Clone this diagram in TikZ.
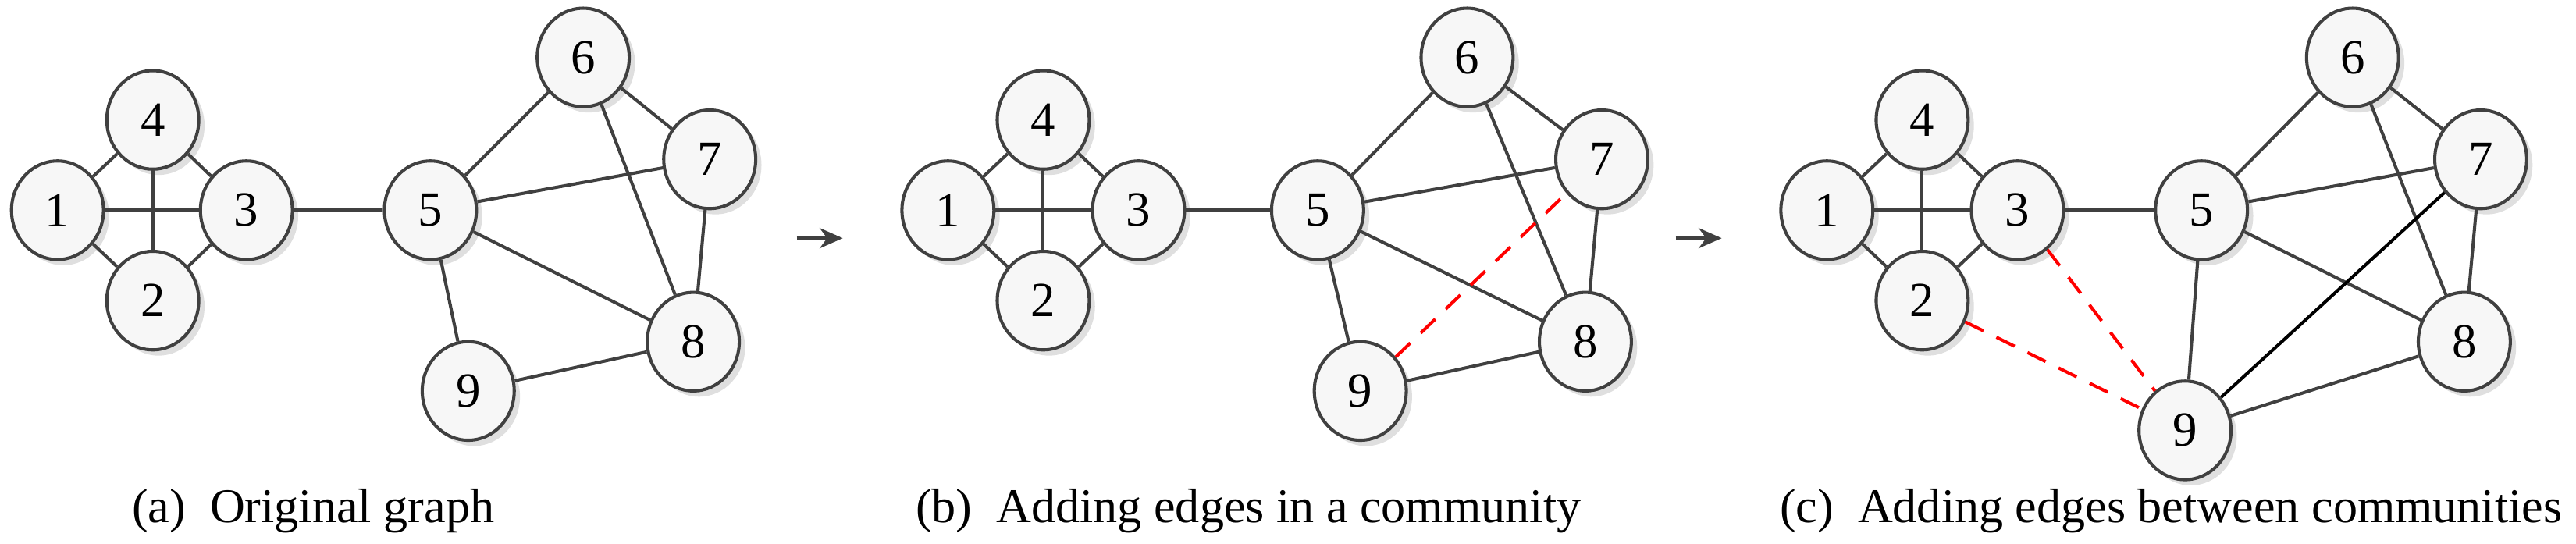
\documentclass[tikz,border=0pt]{standalone}
\usepackage{fontspec}
\setmainfont{Liberation Serif}
\usetikzlibrary{shapes.geometric,shadows,arrows.meta}
\begin{document}
\begin{tikzpicture}[x=0.02cm,y=-0.02cm,
  vertex/.style={ellipse, draw=black!75, line width=1.1pt, fill=gray!6,
    minimum width=56*0.02cm, minimum height=60*0.02cm, inner sep=0pt,
    drop shadow={opacity=0.25, shadow xshift=2pt, shadow yshift=-2pt},
    font=\fontsize{17}{18}\selectfont},
  edge/.style={draw=black!75, line width=1.1pt},
  newedge/.style={draw=red, line width=1.1pt, dash pattern=on 7pt off 5pt},
  caption/.style={anchor=base west, inner sep=0pt, font=\fontsize{16.8}{19}\selectfont}]
  \useasboundingbox (0,0) rectangle (1568,331);

  % (a) original graph
  \node[vertex] (a1) at (35,128) {1};
  \node[vertex] (a4) at (93,73) {4};
  \node[vertex] (a3) at (150,128) {3};
  \node[vertex] (a2) at (93,183) {2};
  \node[vertex] (a5) at (262,128) {5};
  \node[vertex] (a6) at (355,35) {6};
  \node[vertex] (a7) at (432,97) {7};
  \node[vertex] (a8) at (422,208) {8};
  \node[vertex] (a9) at (285,238) {9};

  % (b) adding edges in a community
  \node[vertex] (b1) at (577,128) {1};
  \node[vertex] (b4) at (635,73) {4};
  \node[vertex] (b3) at (693,128) {3};
  \node[vertex] (b2) at (635,183) {2};
  \node[vertex] (b5) at (802,128) {5};
  \node[vertex] (b6) at (893,35) {6};
  \node[vertex] (b7) at (975,97) {7};
  \node[vertex] (b8) at (965,208) {8};
  \node[vertex] (b9) at (828,238) {9};

  % (c) adding edges between communities
  \node[vertex] (c1) at (1112,128) {1};
  \node[vertex] (c4) at (1170,73) {4};
  \node[vertex] (c3) at (1228,128) {3};
  \node[vertex] (c2) at (1170,183) {2};
  \node[vertex] (c5) at (1340,128) {5};
  \node[vertex] (c6) at (1432,35) {6};
  \node[vertex] (c7) at (1510,97) {7};
  \node[vertex] (c8) at (1500,208) {8};
  \node[vertex] (c9) at (1330,262) {9};

  \foreach \g in {a,b,c}{
    \foreach \u/\v in {1/4,4/3,3/2,2/1,1/3,4/2,3/5,5/6,5/7,6/7,6/8,7/8,5/8,5/9,9/8}
      \draw[edge] (\g\u) -- (\g\v);
  }
  \draw[newedge] (b9) -- (b7);
  \draw[newedge] (c3) -- (c9);
  \draw[newedge] (c2) -- (c9);
  \draw[edge, draw=black] (c9) -- (c7);

  % arrows
  \coordinate (p1) at (485,145);
  \coordinate (q1) at (513,145);
  \coordinate (p2) at (1020,145);
  \coordinate (q2) at (1048,145);
  \draw[black!75, line width=1.2pt, -{Stealth[length=8pt,width=7pt]}] (p1) -- (q1);
  \draw[black!75, line width=1.2pt, -{Stealth[length=8pt,width=7pt]}] (p2) -- (q2);

  % captions
  \node[caption] (capa) at (80,318) {(a)\ \ Original graph};
  \node[caption] (capb) at (557,318) {(b)\ \ Adding edges in a community};
  \node[caption] (capc) at (1083,318) {(c)\ \ Adding edges between communities};
\end{tikzpicture}
\end{document}
